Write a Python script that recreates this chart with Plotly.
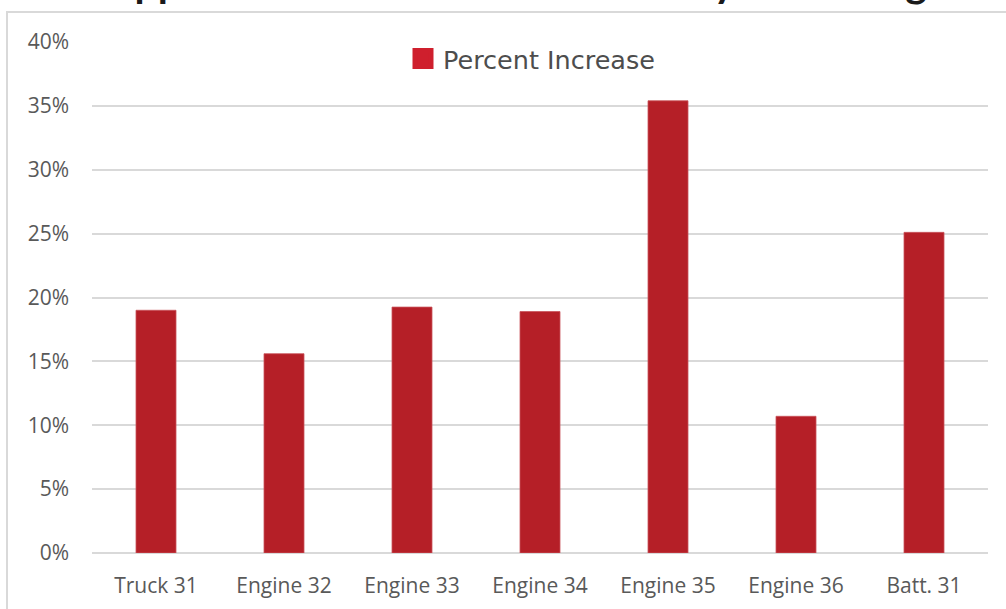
import plotly.graph_objects as go

categories = ["Truck 31", "Engine 32", "Engine 33", "Engine 34", "Engine 35", "Engine 36", "Batt. 31"]
percent_increase = [0.190, 0.156, 0.1925, 0.189, 0.354, 0.107, 0.251]
tick_vals = [0, 0.05, 0.10, 0.15, 0.20, 0.25, 0.30, 0.35, 0.40]
tick_text = ["0%", "5%", "10%", "15%", "20%", "25%", "30%", "35%", "40%"]
series_name = "Percent Increase"
title_text = "Apparatus Call Volume Increase by Percentage"

W, H = 1006, 609
L, R, T, B = 92, 18, 42, 56
pw, ph = W - L - R, H - T - B

def px_x(x):
    return (x - L) / pw

def px_y(y):
    return (H - B - y) / ph

fig = go.Figure()
fig.add_trace(go.Bar(
    x=categories, y=percent_increase, name=series_name,
    marker=dict(color="#b51f27", line=dict(color="#c9545a", width=0.8)),
    showlegend=False, legendgroup="g",
))
fig.add_trace(go.Scatter(
    x=[None], y=[None], mode="markers", name=series_name, legendgroup="g",
    marker=dict(symbol="square", size=16, color="#cf1f2d", line=dict(color="#cf1f2d", width=5)),
))

fig.update_layout(
    width=W, height=H,
    margin=dict(l=L, r=R, t=T, b=B, autoexpand=False),
    paper_bgcolor="white", plot_bgcolor="white",
    bargap=0.6875,
    showlegend=True,
    legend=dict(orientation="h", x=px_x(403), xanchor="left", y=px_y(59), yanchor="middle",
                font=dict(family="DejaVu Sans", size=25.5, color="#4d4d4d"), bgcolor="rgba(0,0,0,0)"),
    xaxis=dict(showgrid=False, showline=False, ticks="", ticklabelstandoff=18, automargin=False,
               tickfont=dict(family="Open Sans", size=21, color="#595959"), fixedrange=True),
    yaxis=dict(range=[0, 0.40], tickvals=tick_vals, ticktext=tick_text, automargin=False,
               showgrid=True, gridcolor="#d9d9d9", gridwidth=2,
               zeroline=True, zerolinecolor="#d9d9d9", zerolinewidth=2,
               showline=False, ticks="", ticklabelstandoff=22,
               tickfont=dict(family="Open Sans", size=21, color="#595959")),
    shapes=[dict(type="rect", xref="paper", yref="paper",
                 x0=px_x(7), x1=px_x(1030), y0=px_y(640), y1=px_y(12),
                 line=dict(color="#d9d9d9", width=2), fillcolor="rgba(0,0,0,0)", layer="below")],
    annotations=[dict(text=title_text, xref="paper", yref="paper", x=px_x(103), y=px_y(8),
                      xanchor="left", yanchor="bottom", showarrow=False,
                      font=dict(family="Lato", size=41, color="#1a1a1a", weight="bold"))],
)

fig.write_html("out.html", post_script="document.body.style.margin='0';",
               config={"displayModeBar": False})
